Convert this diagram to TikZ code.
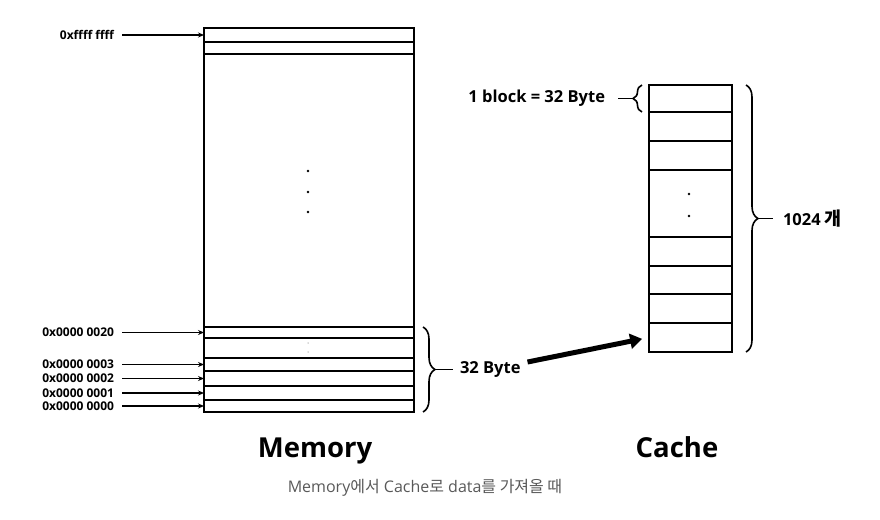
\documentclass[tikz,border=0pt]{standalone}
\usepackage{fontspec}
\setmainfont{Open Sans}
\newfontfamily\kr{Noto Sans CJK KR}
\usetikzlibrary{arrows.meta, positioning, decorations.pathreplacing}

\begin{document}
\begin{tikzpicture}[x=1pt, y=-1pt,
    every node/.style={font=\bfseries},
    memcell/.style={draw, line width=1.6pt, minimum width=210pt, inner sep=0pt, outer sep=0pt, anchor=north west},
    cachecell/.style={draw, line width=1.6pt, minimum width=83pt, inner sep=0pt, outer sep=0pt, anchor=north west},
    addr/.style={font=\fontsize{12}{13}\selectfont\bfseries, inner sep=2pt, outer sep=6pt},
    ptr/.style={line width=1.5pt, -{Stealth[length=6pt, width=5pt]}},
    fatptr/.style={line width=5pt, -{Triangle[length=12pt, width=15pt]}},
    tick/.style={line width=1.6pt},
    bigbrace/.style={decorate, decoration={brace, amplitude=12pt}, line width=1.6pt},
    smallbrace/.style={decorate, decoration={brace, amplitude=9pt}, line width=1.6pt},
    note/.style={font=\fontsize{16.5}{19}\selectfont\bfseries, inner sep=3pt},
    title/.style={font=\fontsize{27.5}{31}\selectfont\bfseries, anchor=base},
    caption/.style={font=\fontsize{16}{18}\selectfont, text=black!65, anchor=base},
    dotmark/.style={circle, fill, inner sep=0pt, minimum size=2.6pt},
    faintdot/.style={circle, fill=black!30, inner sep=0pt, minimum size=1.5pt}
  ]
  \useasboundingbox (0,0) rectangle (880,519);

  % Memory blocks
  \foreach \t/\b/\n in {28/42/m1, 42/54/m2, 54/327/m3, 327/338/m4, 338/358/m5,
                        358/371/m6, 371/386/m7, 386/400/m8, 400/412/m9} {
    \pgfmathsetmacro\h{\b-\t}
    \node[memcell, minimum height=\h pt] (\n) at (204,\t) {};
  }
  \node[dotmark] (md1) at (308,171) {};
  \node[dotmark] (md2) at (308,192) {};
  \node[dotmark] (md3) at (308,212) {};
  \node[faintdot] (mf1) at (308,343) {};
  \node[faintdot] (mf2) at (308,352) {};

  % Addresses
  \node[addr, left=82pt of m1.west] (a1) {0xffff ffff};
  \node[addr, left=82pt of m4.west] (a4) {0x0000 0020};
  \node[addr, left=82pt of m6.west] (a6) {0x0000 0003};
  \node[addr, left=82pt of m7.west] (a7) {0x0000 0002};
  \node[addr, left=82pt of m8.west] (a8) {0x0000 0001};
  \node[addr, left=82pt of m9.west] (a9) {0x0000 0000};
  \foreach \i in {1,4,6,7,8,9}
    \draw[ptr] (a\i) -- (m\i);

  % 32 Byte brace
  \coordinate[right=9pt of m4.north east] (mbt);
  \coordinate[right=9pt of m9.south east] (mbb);
  \draw[bigbrace] (mbt) -- (mbb);
  \coordinate (mbtip) at (435,369.5);
  \node[note, right=18pt of mbtip, outer sep=4pt] (byte32) {32 Byte};
  \draw[tick] (mbtip) -- (byte32);

  % Cache blocks
  \foreach \t/\b/\n in {85/112/c1, 112/141/c2, 141/170/c3, 170/237/c4, 237/266/c5,
                        266/294/c6, 294/323/c7, 323/352/c8} {
    \pgfmathsetmacro\h{\b-\t}
    \node[cachecell, minimum height=\h pt] (\n) at (649,\t) {};
  }
  \node[dotmark] (cd1) at (689,194) {};
  \node[dotmark] (cd2) at (689,216) {};

  \draw[fatptr, shorten >=7pt] (byte32) -- (c8.west);

  % 1 block brace
  \coordinate[left=7pt of c1.south west] (sbb);
  \coordinate[left=7pt of c1.north west] (sbt);
  \draw[smallbrace] (sbb) -- (sbt);
  \coordinate (sbtip) at (633,98.5);
  \node[note, left=15pt of sbtip, outer sep=10pt] (blk) {1 block = 32 Byte};
  \draw[tick] (sbtip) -- (blk);

  % 1024 brace
  \coordinate[right=14pt of c1.north east] (cbt);
  \coordinate[right=14pt of c8.south east] (cbb);
  \draw[bigbrace] (cbt) -- (cbb);
  \coordinate (cbtip) at (758,218.5);
  \node[note, right=15pt of cbtip, outer sep=7pt] (cnt) {1024 {\kr\fontsize{18.5}{19}\selectfont 개}};
  \draw[tick] (cbtip) -- (cnt);

  % Titles
  \node[title] (memt) at (315,457) {Memory};
  \node[title] (cacht) at (677,457) {Cache};
  \node[caption] (cap) at (425,492) {Memory{\kr 에서} Cache{\kr 로} data{\kr 를 가져올 때}};
\end{tikzpicture}
\end{document}
